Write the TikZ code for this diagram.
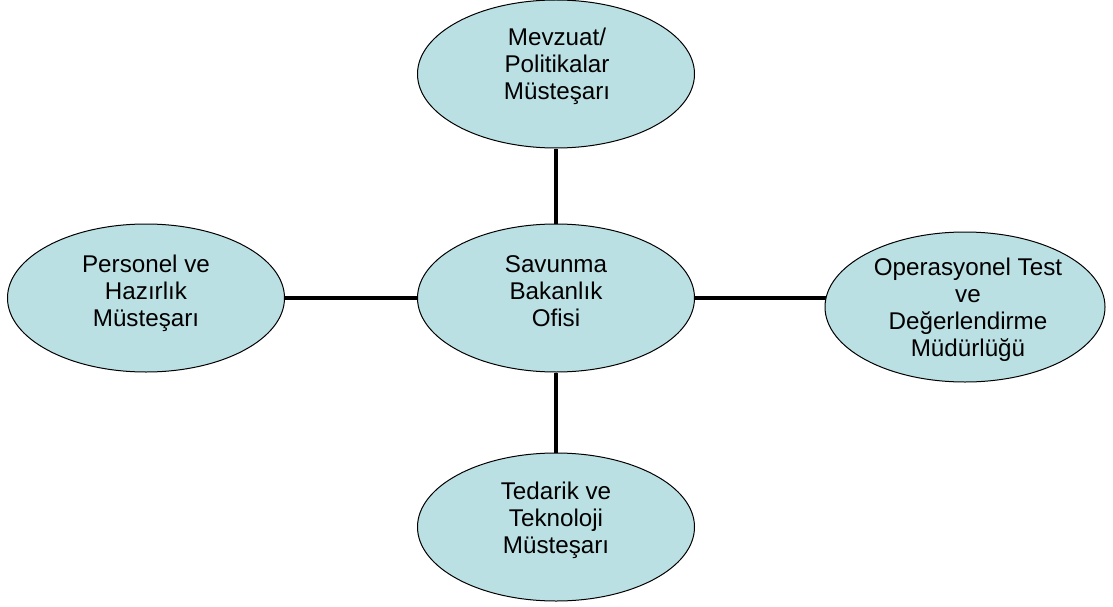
\documentclass[tikz,border=0pt]{standalone}
\usepackage{fontspec}
\setmainfont{Liberation Sans}
\usetikzlibrary{shapes.geometric,backgrounds}
\definecolor{unitfill}{RGB}{187,224,227}
\tikzset{
  unit/.style={ellipse, draw=black, line width=1pt, fill=unitfill,
    minimum width=277pt, minimum height=148pt, inner sep=0pt},
  caption/.style={align=center, font=\fontsize{24.2}{27}\selectfont, inner sep=0pt},
  link/.style={line width=4.5pt, draw=black}
}
\begin{document}
\begin{tikzpicture}[x=1pt, y=-1pt]
\useasboundingbox (0,0) rectangle (1113,607);

% units of the organisation
\node[unit] (pol) at (556,74) {};
\node[unit] (ctr) at (556,298) {};
\node[unit] (per) at (146,298) {};
\node[unit, minimum width=280pt, minimum height=150pt] (opt) at (965,307) {};
\node[unit] (ted) at (556,527) {};

% connectors behind the ellipses
\begin{pgfonlayer}{background}
  \draw[link] (pol.south) -- (ctr.north);
  \draw[link] (ctr.south) -- (ted.north);
  \draw[link] (per.east) -- (ctr.west);
  \draw[link] (ctr.east) -- ([xshift=3pt]opt.west |- ctr.east);
\end{pgfonlayer}

% unit names
\node[caption] (tpol) at (557,66) {Mevzuat/\\Politikalar\\Müsteşarı};
\node[caption] (tctr) at (556,291) {Savunma\\Bakanlık\\Ofisi};
\node[caption] (tper) at (146,293) {Personel ve\\Hazırlık\\Müsteşarı};
\node[caption] (tted) at (556,520) {Tedarik ve\\Teknoloji\\Müsteşarı};
\begin{scope}
  \clip (820,230) rectangle (1113,370);
  \node[caption] (topt) at (968,310) {Operasyonel Test\\ve\\Değerlendirme\\Müdürlüğü};
\end{scope}
\end{tikzpicture}
\end{document}
